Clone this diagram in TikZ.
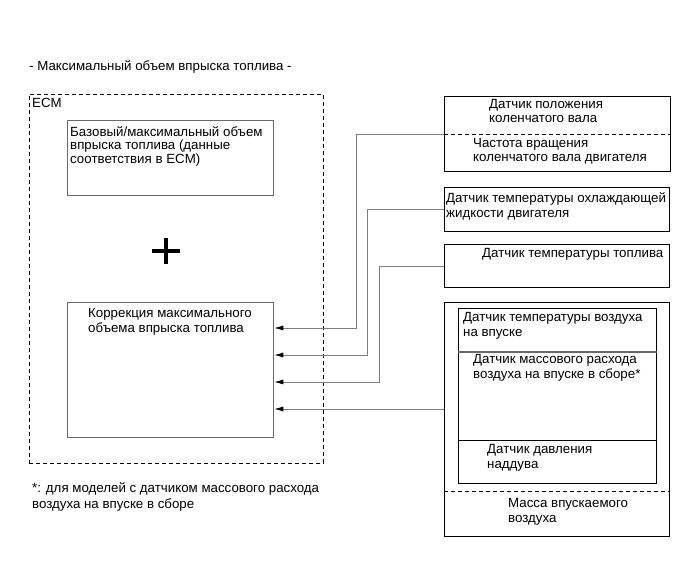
\documentclass[tikz,border=0pt]{standalone}
\usepackage{fontspec}
\setmainfont{Liberation Sans}
\usetikzlibrary{arrows.meta, calc}
\definecolor{wiregray}{RGB}{125,125,125}
\definecolor{framegray}{RGB}{105,105,105}

\begin{document}
\begin{tikzpicture}[x=1pt, y=-1pt,
  txt/.style={anchor=north west, inner sep=0pt, align=left, font=\fontsize{13.3}{15}\selectfont},
  block/.style={draw=framegray, line width=1.3pt, anchor=north west, inner sep=0pt},
  sensor/.style={draw=black, line width=0.8pt, anchor=north west, inner sep=0pt},
  wire/.style={draw=wiregray, line width=0.8pt, -{Latex[length=9pt, width=5pt, color=black]}}]
  \useasboundingbox (0,0) rectangle (691,562);

  % ECM side
  \node[txt] (title) at (29,60) {- Максимальный объем впрыска топлива -};
  \node[draw, dash pattern=on 4pt off 3pt, line width=0.7pt, anchor=north west, inner sep=0pt,
        minimum width=294pt, minimum height=369pt] (ecm) at (29,94) {};
  \node[txt] (ecmlabel) at (32,98) {ECM};
  \node[block, minimum width=206pt, minimum height=75pt] (base) at (67,120) {};
  \node[txt, font=\fontsize{13.3}{13.3}\selectfont] (basetext) at (70,126.5)
    {Базовый/максимальный объем\\впрыска топлива (данные\\соответствия в ECM)};
  \draw[line width=4pt] (152,251) -- (180,251) (166,238) -- (166,264);
  \node[block, minimum width=206pt, minimum height=135pt] (corr) at (67,302) {};
  \node[txt] (corrtext) at (88,308) {Коррекция максимального\\объема впрыска топлива};
  \node[txt, font=\fontsize{13.3}{16}\selectfont] (note) at (32,482)
    {*: для моделей с датчиком массового расхода\\воздуха на впуске в сборе};

  % sensors
  \node[sensor, minimum width=226pt, minimum height=75pt] (crank) at (444,96) {};
  \draw[dash pattern=on 4pt off 3pt, line width=0.7pt]
    ($(crank.north west)+(0,38)$) -- ($(crank.north east)+(0,38)$);
  \node[txt, font=\fontsize{13.3}{14}\selectfont] (cranktext) at (489,99) {Датчик положения\\коленчатого вала};
  \node[txt, font=\fontsize{13.3}{14}\selectfont] (rpmtext) at (473,138) {Частота вращения\\коленчатого вала двигателя};

  \node[sensor, minimum width=225pt, minimum height=44pt] (cool) at (444,187) {};
  \node[txt] (cooltext) at (446,192) {Датчик температуры охлаждающей\\жидкости двигателя};

  \node[sensor, minimum width=225pt, minimum height=43pt] (fuel) at (444,244) {};
  \node[txt] (fueltext) at (482,248) {Датчик температуры топлива};

  \node[sensor, minimum width=225pt, minimum height=234pt] (air) at (444,302) {};
  \node[sensor, minimum width=198pt, minimum height=175pt] (airin) at (458,308) {};
  \draw[framegray, line width=1.3pt]
    ($(airin.north west)+(0,44)$) -- ($(airin.north east)+(0,44)$);
  \draw[line width=0.8pt]
    ($(airin.north west)+(0,132)$) -- ($(airin.north east)+(0,132)$);
  \draw[dash pattern=on 4pt off 3pt, line width=0.7pt]
    ($(air.north west)+(0,189)$) -- ($(air.north east)+(0,189)$);
  \node[txt] (iattext) at (463,312) {Датчик температуры воздуха\\на впуске};
  \node[txt] (maftext) at (473,354) {Датчик массового расхода\\воздуха на впуске в сборе*};
  \node[txt] (boosttext) at (487,444) {Датчик давления\\наддува};
  \node[txt] (masstext) at (508,498) {Масса впускаемого\\воздуха};

  % signal lines
  \foreach \k in {1,...,4}
    \coordinate (in\k) at ($(corr.north east)+(0,{26+27*(\k-1)})$);
  \draw[wire] (crank.west) -- ++(-88,0) |- (in1);
  \draw[wire] (cool.west) -- ++(-77,0) |- (in2);
  \draw[wire] (fuel.west) -- ++(-65,0) |- (in3);
  \draw[wire] (air.west |- in4) -- (in4);
\end{tikzpicture}
\end{document}
